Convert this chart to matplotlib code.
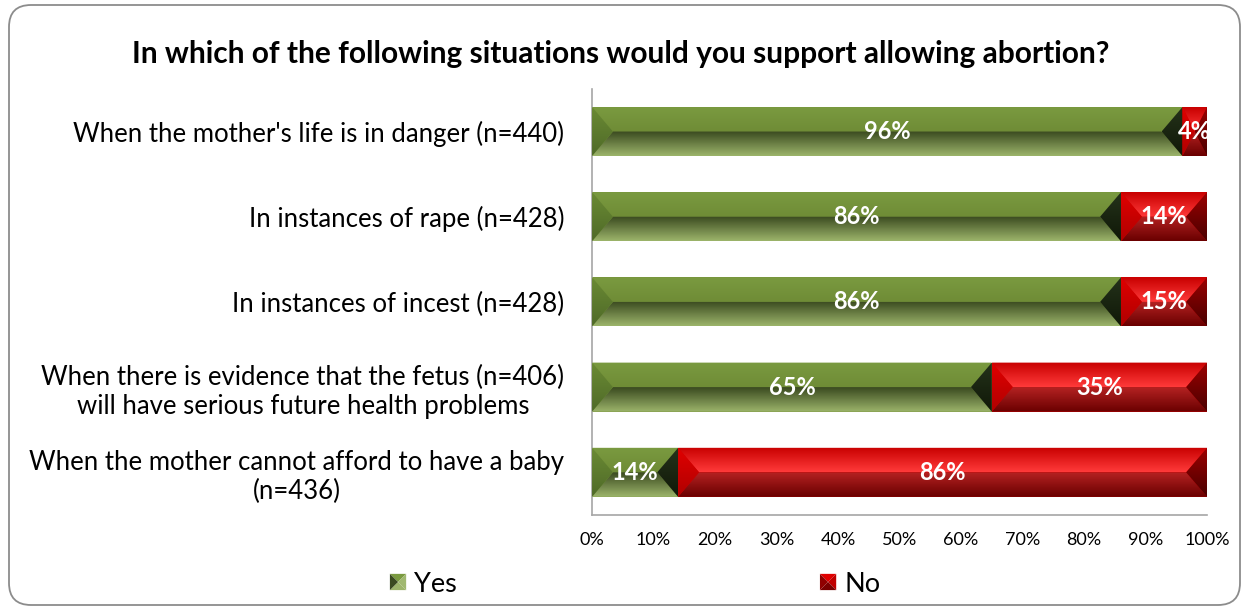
import numpy as np
import matplotlib.pyplot as plt
from matplotlib.patches import Polygon, FancyBboxPatch
from matplotlib.colors import LinearSegmentedColormap
from matplotlib.legend_handler import HandlerBase
from matplotlib.transforms import IdentityTransform

plt.rcParams['font.family'] = ['Lato', 'DejaVu Sans']

title = "In which of the following situations would you support allowing abortion?"
categories = [
    "When the mother's life is in danger (n=440)",
    "In instances of rape (n=428)",
    "In instances of incest (n=428)",
    "When there is evidence that the fetus (n=406)\nwill have serious future health problems",
    "When the mother cannot afford to have a baby\n(n=436)",
]
yes_vals = [96, 86, 86, 65, 14]
no_vals = [4, 14, 15, 35, 86]
series_names = ["Yes", "No"]
xticks = np.arange(0, 101, 10)

# bevel colours: top facet (top->mid), bottom facet (mid->bottom), left end, right end
styles = {
    "Yes": dict(base="#77933c", top=("#7a9a40", "#6f8c36"), bot=("#3a4a20", "#9cb46a"),
                left=("#6a8a34", "#4f6a28"), right=("#24321a", "#101808")),
    "No": dict(base="#d00000", top=("#c80000", "#ff3a3a"), bot=("#b42222", "#6a0000"),
               left=("#e00000", "#b00000"), right=("#9a0000", "#4a0000")),
}


def grad_poly(ax, pts, cols, y0, y1, x0, x1):
    poly = Polygon(pts, closed=True, facecolor="none", edgecolor="none",
                   transform=ax.transData)
    ax.add_patch(poly)
    cmap = LinearSegmentedColormap.from_list("g", [cols[0], cols[1]])
    arr = np.linspace(0, 1, 64).reshape(-1, 1)
    im = ax.imshow(arr, cmap=cmap, aspect="auto", origin="upper",
                   extent=(x0, x1, y1, y0), interpolation="bilinear", zorder=3)
    im.set_clip_path(poly)


def bevel_segment(ax, l, r, c, h, st, d_max):
    t, b = c + h / 2, c - h / 2
    d = min(d_max, (r - l) / 2)
    grad_poly(ax, [(l, t), (r, t), (r - d, c), (l + d, c)], st["top"], t, c, l, r)
    grad_poly(ax, [(l + d, c), (r - d, c), (r, b), (l, b)], st["bot"], c, b, l, r)
    grad_poly(ax, [(l, t), (l + d, c), (l, b)], st["left"], t, b, l, l + d)
    grad_poly(ax, [(r, t), (r - d, c), (r, b)], st["right"], t, b, r - d, r)


class BevelSquare(HandlerBase):
    def __init__(self, cols):
        super().__init__()
        self.cols = cols  # top, right, bottom, left

    def create_artists(self, legend, orig_handle, xdescent, ydescent,
                       width, height, fontsize, trans):
        s = min(width, height)
        x0 = -xdescent + (width - s) / 2
        y0 = -ydescent + (height - s) / 2
        cx, cy = x0 + s / 2, y0 + s / 2
        corners = [(x0, y0 + s), (x0 + s, y0 + s), (x0 + s, y0), (x0, y0)]
        arts = []
        for k, col in enumerate(self.cols):
            arts.append(Polygon([corners[k], corners[(k + 1) % 4], (cx, cy)],
                                closed=True, facecolor=col, edgecolor="none",
                                transform=trans))
        return arts


fig = plt.figure(figsize=(12.43, 6.09), dpi=100)
ax = fig.add_axes([0.4763, 0.1545, 0.4948, 0.6995])

n = len(categories)
ypos = np.arange(n)[::-1]
h = 0.575

yes_bars = ax.barh(ypos, yes_vals, height=h, color=styles["Yes"]["base"], label="Yes", zorder=2)
no_bars = ax.barh(ypos, no_vals, left=yes_vals, height=h, color=styles["No"]["base"], label="No", zorder=2)

for i in range(n):
    c = ypos[i]
    segs = [("Yes", 0, yes_vals[i]), ("No", yes_vals[i], no_vals[i])]
    for name, l, w in segs:
        r = min(l + w, 100)
        bevel_segment(ax, l, r, c, h, styles[name], 3.4)
        ax.text((l + r) / 2, c, f"{w}%", ha="center", va="center", color="white",
                fontsize=17, fontweight="bold", zorder=5)

ax.set_xlim(0, 100)
ax.set_ylim(-0.5, n - 0.5)
ax.set_xticks(xticks, [f"{v}%" for v in xticks])
ax.set_yticks(ypos, categories, multialignment="center")
ax.tick_params(axis="x", length=0, pad=12, labelsize=13, colors="#000000")
ax.tick_params(axis="y", length=0, pad=20, labelsize=18.5)
for side in ["top", "right"]:
    ax.spines[side].set_visible(False)
for side in ["left", "bottom"]:
    ax.spines[side].set_color("#a6a6a6")
    ax.spines[side].set_linewidth(1.2)

fig.text(0.499, 0.912, title, ha="center", va="center", fontsize=21.5, fontweight="bold")

fig.legend([yes_bars, no_bars], series_names, loc="center", bbox_to_anchor=(0.511, 0.041),
           ncol=2, frameon=False, fontsize=19.5, handlelength=0.6, handleheight=0.6,
           handletextpad=0.3, columnspacing=13.4,
           handler_map={yes_bars: BevelSquare(["#7a9a40", "#a0b870", "#9cb46a", "#3a4a20"]),
                        no_bars: BevelSquare(["#e00000", "#c00000", "#7a0000", "#900000"])})

frame = FancyBboxPatch((9, 4), 1231, 600, boxstyle="round,pad=0,rounding_size=22",
                       transform=IdentityTransform(), facecolor="none",
                       edgecolor="#8c8c8c", linewidth=1.3)
fig.patches.append(frame)

fig.savefig("out.png", dpi=100, facecolor="white")
